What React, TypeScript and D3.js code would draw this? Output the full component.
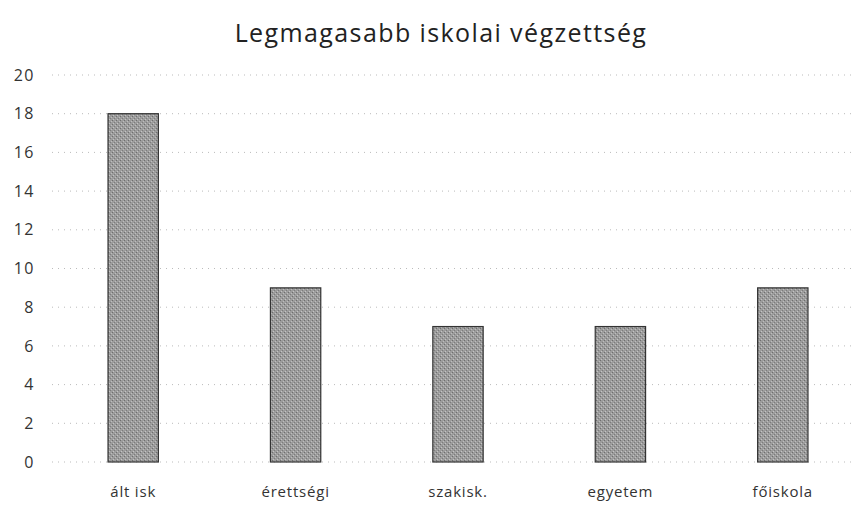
import React, { useRef, useEffect } from 'react';
import * as d3 from 'd3';

const categories = ['ált isk', 'érettségi', 'szakisk.', 'egyetem', 'főiskola'];
const values = [18, 9, 7, 7, 9];
const yTicks = [0, 2, 4, 6, 8, 10, 12, 14, 16, 18, 20];
const title = 'Legmagasabb iskolai végzettség';

const App = () => {
  const svgRef = useRef<SVGSVGElement>(null);

  useEffect(() => {
    const width = 856;
    const height = 506;
    const margin = { top: 75, right: -8, bottom: 44, left: 52 };
    const font = '"Open Sans", "Liberation Sans", sans-serif';

    const svg = d3.select(svgRef.current)
      .attr('width', width)
      .attr('height', height)
      .style('position', 'absolute')
      .style('left', '0px')
      .style('top', '0px')
      .style('display', 'block')
      .style('background', '#fff');

    svg.selectAll('*').remove();

    // texture for bars
    const defs = svg.append('defs');
    const pat = defs.append('pattern')
      .attr('id', 'grain')
      .attr('patternUnits', 'userSpaceOnUse')
      .attr('width', 4)
      .attr('height', 4);
    pat.append('rect').attr('width', 4).attr('height', 4).attr('fill', '#9c9c9c');
    pat.append('rect').attr('x', 0).attr('y', 0).attr('width', 1).attr('height', 1).attr('fill', '#6e6e6e');
    pat.append('rect').attr('x', 2).attr('y', 2).attr('width', 1).attr('height', 1).attr('fill', '#7c7c7c');
    pat.append('rect').attr('x', 1).attr('y', 3).attr('width', 1).attr('height', 1).attr('fill', '#c4c4c4');
    pat.append('rect').attr('x', 3).attr('y', 1).attr('width', 1).attr('height', 1).attr('fill', '#bdbdbd');

    const x = d3.scaleBand()
      .domain(categories)
      .range([margin.left, width - margin.right])
      .paddingInner(0.69)
      .paddingOuter(0.345);

    const y = d3.scaleLinear()
      .domain([0, 20])
      .range([height - margin.bottom, margin.top]);

    // Title
    svg.append('text')
      .attr('x', 441)
      .attr('y', 42)
      .attr('text-anchor', 'middle')
      .style('font-family', font)
      .style('font-size', '25px')
      .style('letter-spacing', '1.4px')
      .attr('fill', '#222')
      .text(title);

    // Grid lines (dotted)
    svg.append('g')
      .selectAll('line')
      .data(yTicks)
      .enter()
      .append('line')
      .attr('x1', margin.left)
      .attr('x2', width)
      .attr('y1', d => y(d))
      .attr('y2', d => y(d))
      .attr('stroke', '#bbb')
      .attr('stroke-width', 1)
      .attr('stroke-dasharray', '1,5');

    // Y tick labels
    svg.append('g')
      .selectAll('text')
      .data(yTicks)
      .enter()
      .append('text')
      .attr('x', 35)
      .attr('y', d => y(d))
      .attr('dy', '0.35em')
      .attr('text-anchor', 'end')
      .style('font-family', font)
      .style('font-size', '16px')
      .style('letter-spacing', '1.5px')
      .attr('fill', '#333')
      .text(d => d);

    // Bars
    svg.selectAll('.bar')
      .data(values)
      .enter()
      .append('rect')
      .attr('class', 'bar')
      .attr('x', (d, i) => x(categories[i])!)
      .attr('y', d => y(d))
      .attr('width', x.bandwidth())
      .attr('height', d => y(0) - y(d))
      .attr('fill', 'url(#grain)')
      .attr('stroke', '#333')
      .attr('stroke-width', 1.2);

    // X labels
    svg.append('g')
      .selectAll('text')
      .data(categories)
      .enter()
      .append('text')
      .attr('x', d => x(d)! + x.bandwidth() / 2)
      .attr('y', 497)
      .attr('text-anchor', 'middle')
      .style('font-family', font)
      .style('font-size', '15px')
      .style('letter-spacing', '0.8px')
      .attr('fill', '#333')
      .text(d => d);
  }, []);

  return <svg ref={svgRef}></svg>;
};

export default App;
